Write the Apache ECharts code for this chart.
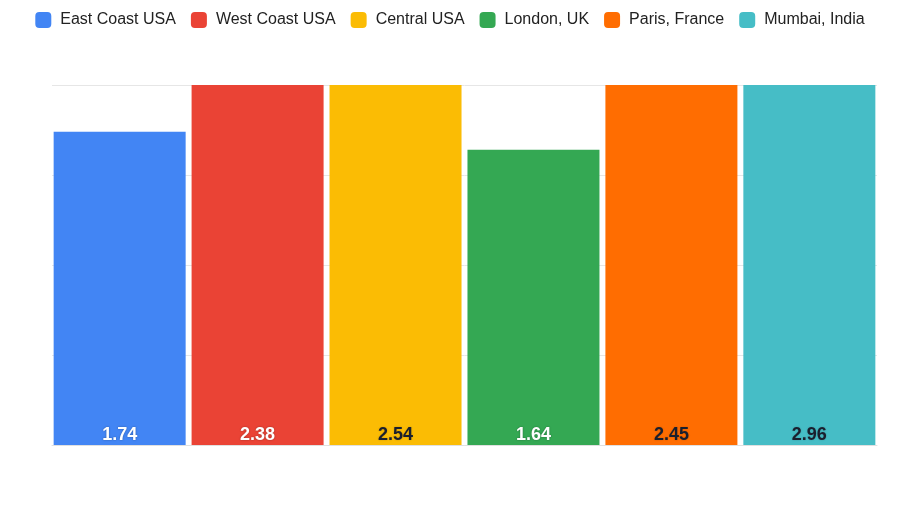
<!DOCTYPE html>
<html><head><meta charset="utf-8">
<script src="https://cdn.jsdelivr.net/npm/echarts@6/dist/echarts.min.js"></script>
<style>html,body{margin:0;padding:0;background:#fff}#c{width:900px;height:520px}</style>
</head><body><div id="c"></div>
<script>
const seriesNames = ['East Coast USA','West Coast USA','Central USA','London, UK','Paris, France','Mumbai, India'];
const seriesValues = [1.74, 2.38, 2.54, 1.64, 2.45, 2.96];
const seriesColors = ['#4285F4','#EA4335','#FBBC04','#34A853','#FF6D01','#46BDC6'];
const labelColors = ['#ffffff','#ffffff','#1a1f2e','#ffffff','#1a1f2e','#1a1f2e'];
const categories = [''];

const chart = echarts.init(document.getElementById('c'));
chart.setOption({
  animation:false,
  backgroundColor:'#fff',
  color: seriesColors,
  legend:{
    top:12, left:'center', padding:0, icon:'roundRect', itemWidth:16, itemHeight:16, itemGap:15,
    textStyle:{fontFamily:'Liberation Sans, Arial, sans-serif', fontSize:16, color:'#222', padding:[0,0,0,4]},
    data: seriesNames
  },
  grid:{left:52, right:23, top:85, bottom:75},
  xAxis:{type:'category', data:categories, axisTick:{show:false}, axisLabel:{show:false},
    axisLine:{lineStyle:{color:'#e0e0e0'}}},
  yAxis:{type:'value', min:0, max:2, interval:0.5, axisLabel:{show:false},
    axisLine:{show:false}, axisTick:{show:false},
    splitLine:{lineStyle:{color:'#e6e6e6'}}},
  series: seriesNames.map((n,i)=>({
    name:n, type:'bar', data:[seriesValues[i]], barWidth:132, barGap:'4.5%',
    itemStyle:{color:seriesColors[i]},
    label:{show:true, position:'insideBottom', distance:1,
      formatter:p=>p.value.toFixed(2),
      fontFamily:'Liberation Sans, Arial, sans-serif', fontSize:18, fontWeight:'bold',
      color:labelColors[i], textBorderWidth:0,
      textShadowColor: labelColors[i]==='#ffffff' ? 'rgba(0,0,0,0.35)' : 'rgba(0,0,0,0.2)',
      textShadowBlur:2}
  }))
});
</script></body></html>
